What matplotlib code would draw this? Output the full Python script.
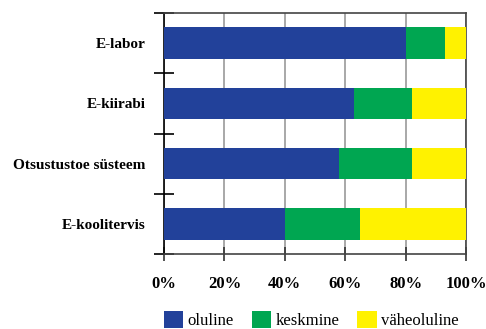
import matplotlib.pyplot as plt
import numpy as np

# andmed
kategooriad = ['E-labor', 'E-kiirabi', 'Otsustustoe süsteem', 'E-koolitervis']
oluline = [80, 63, 58, 40]
keskmine = [13, 19, 24, 25]
vaheoluline = [7, 18, 18, 35]
seeria_nimed = ['oluline', 'keskmine', 'väheoluline']
varvid = ['#22419A', '#00A651', '#FFF200']

plt.rcParams['font.family'] = ['Liberation Serif', 'DejaVu Serif']

fig = plt.figure(figsize=(4.86, 3.29), dpi=100)
ax = fig.add_axes([164 / 486, 1 - 254 / 329, 302 / 486, 241 / 329])

y = np.arange(len(kategooriad))[::-1]
vasak = np.zeros(len(kategooriad))
for vaartused, nimi, v in zip([oluline, keskmine, vaheoluline], seeria_nimed, varvid):
    ax.barh(y, vaartused, left=vasak, height=0.52, color=v, label=nimi, zorder=3)
    vasak += np.array(vaartused)

ax.set_xlim(0, 100)
ax.set_ylim(-0.5, 3.5)
ax.set_xticks(np.arange(0, 101, 20))
ax.set_xticklabels([f'{t}%' for t in range(0, 101, 20)], fontsize=12, fontweight='bold')
ax.xaxis.grid(True, color='#999999', linewidth=1.2, zorder=0)

# kategooriate nimed keskele, kriipsud piiridele
ax.set_yticks(y)
ax.set_yticklabels(kategooriad, fontsize=11, fontweight='bold')
ax.tick_params(axis='y', which='major', length=0, pad=13.5)
ax.set_yticks(np.arange(-0.5, 3.6, 1), minor=True)
ax.tick_params(axis='y', which='minor', direction='inout', length=14, width=1.2, color='black')
ax.tick_params(axis='x', direction='inout', length=10, width=1.2, pad=11, colors='#333333')
for lbl in ax.get_xticklabels():
    lbl.set_color('black')

for s in ['top', 'right', 'bottom']:
    ax.spines[s].set_color('#444444')
    ax.spines[s].set_linewidth(1.2)
ax.spines['left'].set_color('black')
ax.spines['left'].set_linewidth(1.2)

fig.legend(loc='upper left', bbox_to_anchor=(164 / 486, 1 - 311 / 329), ncol=3, frameon=False,
           fontsize=12, handlelength=1.15, handleheight=1.15, handletextpad=0.25,
           columnspacing=1.1, borderpad=0, borderaxespad=0)

fig.savefig('out.png', dpi=100)
